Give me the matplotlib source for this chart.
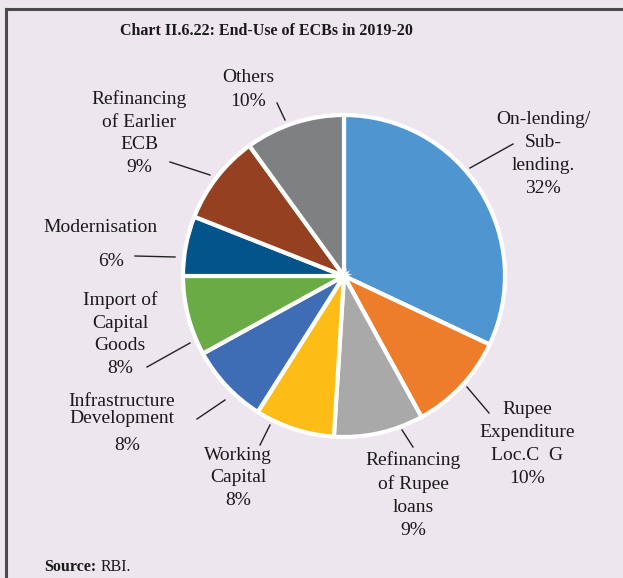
import matplotlib.pyplot as plt

# End-use of ECBs in 2019-20 (per cent)
categories = ['On-lending/\nSub-\nlending.', 'Rupee\nExpenditure\nLoc.C  G', 'Refinancing\nof Rupee\nloans',
              'Working\nCapital', 'Infrastructure\nDevelopment', 'Import of\nCapital\nGoods',
              'Modernisation', 'Refinancing\nof Earlier\nECB', 'Others']
shares = [32, 10, 9, 8, 8, 8, 6, 9, 10]
colors = ['#4f96d1', '#ee7d2b', '#a9a9aa', '#fdbd16', '#3f6db5', '#6aab46', '#03548a', '#954020', '#7f8081']

W, H = 623, 578
bg = '#ede6ee'

# layout in pixel coords (top-left origin): label centre, leader line ends
label_pos = [(543, 154), (527, 444), (413, 495), (238, 478), (122, 410), (120, 334), (100, 228), (139, 133), (248, 77)]
pct_pos = [None, None, None, None, (127, 446), None, (111, 261), None, (248, 101)]
leaders = [((470, 168), (513, 144)), ((467, 387), (489, 413)), ((402, 430), (413, 447)),
           ((270, 425), (260, 445)), ((225, 400), (197, 419)), ((190, 343), (147, 367)),
           ((175, 257), (135, 256)), ((210, 175), (170, 162)), ((285, 120), (277, 103))]


def py(y):
    return H - y


fig = plt.figure(figsize=(W / 100, H / 100), dpi=100, facecolor=bg)
ax = fig.add_axes([0, 0, 1, 1])
ax.set_facecolor(bg)

ax.pie(shares, colors=colors, startangle=90, counterclock=False,
       center=(344, py(276)), radius=161,
       wedgeprops=dict(edgecolor='white', linewidth=3))
ax.set_xlim(0, W)
ax.set_ylim(0, H)
ax.set_aspect('auto')
ax.axis('off')

font = dict(family='Liberation Serif', fontsize=14, color='#1a1a1a')

for i, cat in enumerate(categories):
    if pct_pos[i] is None:
        txt = cat + '\n%d%%' % shares[i]
    else:
        txt = cat
        ax.text(pct_pos[i][0], py(pct_pos[i][1]), '%d%%' % shares[i], ha='center', va='center', **font)
    ls = 1.05 if i == 4 else 1.45
    ax.text(label_pos[i][0], py(label_pos[i][1]), txt, ha='center', va='center',
            multialignment='center', linespacing=ls, **font)
    (x0, y0), (x1, y1) = leaders[i]
    ax.plot([x0, x1], [py(y0), py(y1)], color='#222222', lw=1)

# frame lines top and left
ax.plot([6, W], [py(9), py(9)], color='#4a4a4a', lw=2.2)
ax.plot([6, 6], [py(9), 0], color='#4a4a4a', lw=2.2)

ax.text(266, py(31), 'Chart II.6.22: End-Use of ECBs in 2019-20', ha='center', va='center',
        family='Liberation Serif', fontsize=11.5, fontweight='bold', color='#1a1a1a')
ax.text(44, py(567), 'Source:', ha='left', va='center', family='Liberation Serif',
        fontsize=11.5, fontweight='bold', color='#1a1a1a')
ax.text(101, py(567), 'RBI.', ha='left', va='center', family='Liberation Serif',
        fontsize=11.5, color='#1a1a1a')

fig.savefig('out.png', dpi=100, facecolor=bg)
